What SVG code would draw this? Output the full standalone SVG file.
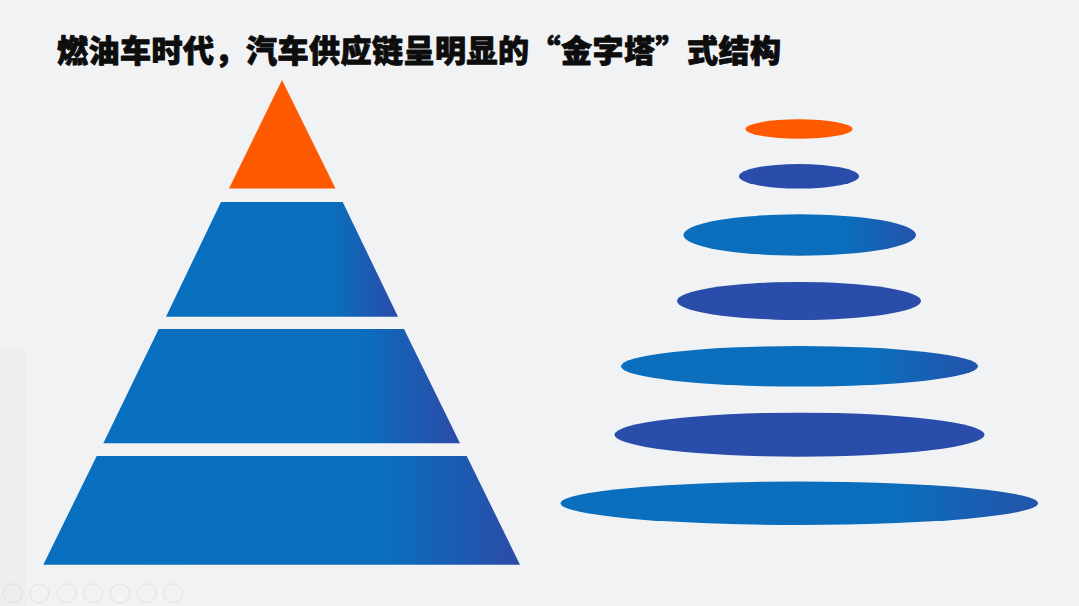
<svg xmlns="http://www.w3.org/2000/svg" width="1079" height="606" viewBox="0 0 1079 606">
<defs>
<linearGradient id="gTier" x1="0" y1="0" x2="1" y2="0">
<stop offset="0" stop-color="#086fbf"/>
<stop offset="0.72" stop-color="#0a6ebd"/>
<stop offset="1" stop-color="#2b4ba8"/>
</linearGradient>
<linearGradient id="gEll" x1="0" y1="0" x2="1" y2="0">
<stop offset="0" stop-color="#0a6fbe"/>
<stop offset="0.7" stop-color="#0b6ebd"/>
<stop offset="1" stop-color="#2353ab"/>
</linearGradient>
</defs>
<style>
.title{font-family:"Noto Sans CJK SC","Noto Sans CJK JP",sans-serif;font-weight:900;font-size:31px;fill:#0d0d0d;stroke:#0d0d0d;stroke-width:0.9;stroke-linejoin:round}
.orange{fill:#ff5a00}
.tier{fill:url(#gTier)}
.ell{fill:url(#gEll)}
.dark{fill:#2a4dab}
.ctl{fill:none;stroke:#dfe0e3;stroke-width:1}
</style>
<rect x="0" y="0" width="1079" height="606" fill="#f1f2f4"/>
<rect x="0" y="350" width="26" height="256" fill="#eceef0"/>
<text class="title" x="57" y="62" textLength="724" lengthAdjust="spacing">燃油车时代，汽车供应链呈明显的“金字塔”式结构</text>
<g id="pyramid-top"><polygon class="orange" points="282,80 335.5,188.5 229,188.5"/></g>
<g id="pyramid-tier2"><polygon class="tier" points="221,202 342.7,202 398,316.7 166,316.7"/></g>
<g id="pyramid-tier3"><polygon class="tier" points="158.7,329 404,329 460,443.3 103.3,443.3"/></g>
<g id="pyramid-tier4"><polygon class="tier" points="96.7,456 466.7,456 520,564.7 43.3,564.7"/></g>
<g id="ellipse-1"><ellipse class="orange" cx="799" cy="129" rx="53.5" ry="9.7"/></g>
<g id="ellipse-2"><ellipse class="dark" cx="799" cy="176.3" rx="60" ry="12.3"/></g>
<g id="ellipse-3"><ellipse class="ell" cx="799.7" cy="235" rx="116.3" ry="20.7"/></g>
<g id="ellipse-4"><ellipse class="dark" cx="799" cy="301" rx="122" ry="19"/></g>
<g id="ellipse-5"><ellipse class="ell" cx="799.5" cy="366.3" rx="178.5" ry="20.3"/></g>
<g id="ellipse-6"><ellipse class="dark" cx="799.5" cy="434.7" rx="185" ry="22"/></g>
<g id="ellipse-7"><ellipse class="ell" cx="799.3" cy="503.3" rx="238.7" ry="21.7"/></g>
<g id="connectors"></g>
<g id="controls">
<circle class="ctl" cx="12.7" cy="593.3" r="9.5"/>
<circle class="ctl" cx="39.3" cy="593.3" r="9.5"/>
<circle class="ctl" cx="66.7" cy="593.3" r="9.5"/>
<circle class="ctl" cx="93.3" cy="593.3" r="9.5"/>
<circle class="ctl" cx="120" cy="593.3" r="9.5"/>
<circle class="ctl" cx="146.7" cy="593.3" r="9.5"/>
<circle class="ctl" cx="173.3" cy="593.3" r="9.5"/>
</g>
</svg>
